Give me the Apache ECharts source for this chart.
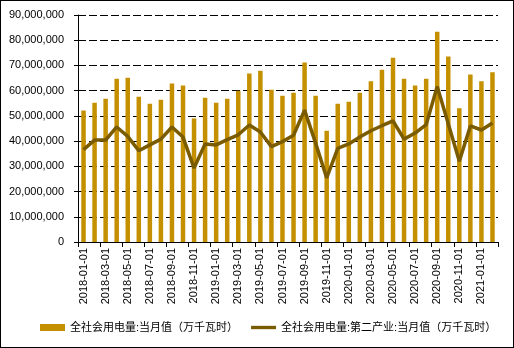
<!DOCTYPE html>
<html>
<head>
<meta charset="utf-8">
<script src="https://cdn.jsdelivr.net/npm/echarts@6/dist/echarts.min.js"></script>
<style>
  html, body { margin: 0; padding: 0; background: #fff; }
  #wrap { position: relative; width: 514px; height: 348px; }
  #chart { width: 514px; height: 348px; }
  #frame { position: absolute; left: 0; top: 0; width: 514px; height: 348px; box-sizing: border-box; border: 1px solid #000; pointer-events: none; }
</style>
</head>
<body>
<div id="wrap">
  <div id="chart"></div>
  <div id="frame"></div>
</div>
<script>
// Monthly periods
const months = [
  '2018-01-01','2018-02-01','2018-03-01','2018-04-01','2018-05-01','2018-06-01',
  '2018-07-01','2018-08-01','2018-09-01','2018-10-01','2018-11-01','2018-12-01',
  '2019-01-01','2019-02-01','2019-03-01','2019-04-01','2019-05-01','2019-06-01',
  '2019-07-01','2019-08-01','2019-09-01','2019-10-01','2019-11-01','2019-12-01',
  '2020-01-01','2020-02-01','2020-03-01','2020-04-01','2020-05-01','2020-06-01',
  '2020-07-01','2020-08-01','2020-09-01','2020-10-01','2020-11-01','2020-12-01',
  '2021-01-01','2021-02-01'
];

// 全社会用电量:当月值（万千瓦时）
const totalUsage = [
  52100000, 55200000, 56800000, 64700000, 65100000, 57600000,
  54800000, 56400000, 62800000, 62000000, 49000000, 57200000,
  55200000, 56800000, 60000000, 66800000, 67900000, 60400000,
  58000000, 59200000, 71200000, 58000000, 44100000, 54800000,
  55600000, 59200000, 63700000, 68300000, 73100000, 64700000,
  62000000, 64700000, 83400000, 73500000, 53000000, 66400000,
  63700000, 67300000
];

// 全社会用电量:第二产业:当月值（万千瓦时）
const secondaryUsage = [
  36600000, 40400000, 40400000, 45600000, 41900000, 36200000,
  38500000, 40800000, 45600000, 41600000, 29300000, 38900000,
  38500000, 40600000, 42500000, 46400000, 43600000, 37800000,
  39800000, 42300000, 52300000, 39200000, 25400000, 37100000,
  38900000, 41600000, 44100000, 46100000, 48000000, 40800000,
  43200000, 46500000, 61700000, 46900000, 32000000, 46000000,
  44400000, 47200000
];

const seriesNames = ['全社会用电量:当月值（万千瓦时）', '全社会用电量:第二产业:当月值（万千瓦时）'];

const barColor = '#c49000';
const lineColor = '#7a5b00';
const latin = "'Liberation Sans', Arial, 'Noto Sans CJK SC', sans-serif";

// Thin horizontal stroke for the line series legend key (outer moveTo points keep the full box)
const lineKey = 'path://M0,0 M0,1.75 L26,1.75 L26,5.25 L0,5.25 Z M26,7';

const chart = echarts.init(document.getElementById('chart'), null, { renderer: 'canvas' });
chart.setOption({
  animation: false,
  backgroundColor: '#fff',
  grid: { left: 78, right: 16, top: 15, bottom: 106, containLabel: false },
  legend: {
    data: [
      { name: seriesNames[0], icon: 'rect', itemStyle: { color: barColor } },
      { name: seriesNames[1], icon: lineKey, itemStyle: { color: lineColor } }
    ],
    left: 40,
    top: 322,
    padding: 0,
    itemWidth: 25,
    itemHeight: 7,
    itemGap: 13,
    textStyle: { fontSize: 11, color: '#000', fontFamily: latin }
  },
  xAxis: {
    type: 'category',
    data: months,
    boundaryGap: true,
    axisLine: { lineStyle: { color: '#000', width: 1 } },
    axisTick: { show: true, interval: 1, length: 5, lineStyle: { color: '#000' } },
    axisLabel: {
      interval: 1,
      rotate: 90,
      margin: 6,
      fontSize: 11,
      color: '#000',
      fontFamily: latin
    },
    splitLine: { show: false }
  },
  yAxis: {
    type: 'value',
    min: 0,
    max: 90000000,
    interval: 10000000,
    axisLine: { show: true, lineStyle: { color: '#000', width: 1 } },
    axisTick: { show: true, length: 4, lineStyle: { color: '#000' } },
    axisLabel: {
      margin: 14,
      fontSize: 11,
      color: '#000',
      fontFamily: latin,
      formatter: v => v.toLocaleString('en-US')
    },
    splitLine: { show: true, lineStyle: { color: '#000', width: 1, type: [8, 3] } }
  },
  series: [
    {
      name: seriesNames[0],
      type: 'bar',
      data: totalUsage,
      barWidth: 4.5,
      itemStyle: { color: barColor }
    },
    {
      name: seriesNames[1],
      type: 'line',
      data: secondaryUsage,
      symbol: 'none',
      lineStyle: { color: lineColor, width: 3.5 },
      itemStyle: { color: lineColor }
    }
  ]
});
</script>
</body>
</html>
